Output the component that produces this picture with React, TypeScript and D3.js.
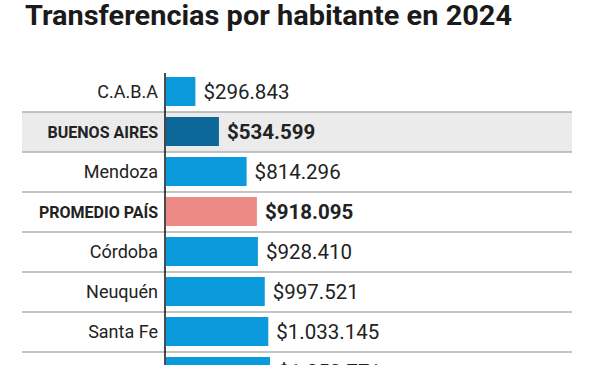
import * as d3 from "d3";

const categories = ["C.A.B.A", "BUENOS AIRES", "Mendoza", "PROMEDIO PAÍS", "Córdoba", "Neuquén", "Santa Fe", "Misiones"];
const values = [296843, 534599, 814296, 918095, 928410, 997521, 1033145, 1050771];
// "normal" | "highlight" | "average"
const kinds = ["normal", "highlight", "normal", "average", "normal", "normal", "normal", "normal"];

const W = 600;
const H = 365;
const axisX = 165;
const rowTop = 72;
const rowH = 40;

const colors: Record<string, string> = {
  normal: "#0b9bdc",
  highlight: "#0b6898",
  average: "#ee8a85",
};

const locale = d3.formatLocale({ decimal: ",", thousands: ".", grouping: [3], currency: ["$", ""] });
const fmt = locale.format("$,");

export default function App() {
  const x = d3.scaleLinear().domain([0, 1000000]).range([axisX + 1, axisX + 100]);
  const y = d3
    .scaleBand<string>()
    .domain(categories)
    .range([rowTop, rowTop + rowH * categories.length])
    .paddingInner(0);

  return (
    <svg width={W} height={H} style={{ position: "absolute", left: 0, top: 0, background: "#fff" }}>
      <text
        x={25}
        y={25}
        fontFamily="Roboto"
        fontWeight={700}
        fontSize={28}
        fill="#1a1a1a"
        textLength={487}
        lengthAdjust="spacingAndGlyphs"
      >
        Transferencias por habitante en 2024
      </text>

      {/* highlighted row background */}
      {categories.map((c, i) =>
        kinds[i] === "highlight" ? (
          <rect key={"bg" + c} x={22} y={y(c)} width={550} height={y.bandwidth()} fill="#ebebeb" />
        ) : null
      )}

      {/* row separators */}
      {categories.slice(1).map((c) => (
        <line key={"sep" + c} x1={22} x2={572} y1={y(c)} y2={y(c)} stroke="#b0b0b0" strokeWidth={1.5} />
      ))}

      {categories.map((c, i) => {
        const top = y(c)!;
        const bold = kinds[i] !== "normal";
        const cy = top + 20;
        return (
          <g key={c}>
            <rect x={x(0)} y={top + 5} width={x(values[i]) - x(0)} height={29} fill={colors[kinds[i]]} />
            <text
              x={158}
              y={cy}
              dy="0.35em"
              textAnchor="end"
              fontFamily="Roboto"
              fontWeight={bold ? 700 : 400}
              fontSize={bold ? 16 : 18}
              fill="#222"
            >
              {c}
            </text>
            <text
              x={x(values[i]) + 8}
              y={cy}
              dy="0.35em"
              fontFamily="Roboto"
              fontWeight={bold ? 700 : 400}
              fontSize={20.5}
              fill="#222"
            >
              {fmt(values[i])}
            </text>
          </g>
        );
      })}

      <line x1={axisX} x2={axisX} y1={rowTop + 1} y2={H} stroke="#111" strokeWidth={1.5} />
    </svg>
  );
}
